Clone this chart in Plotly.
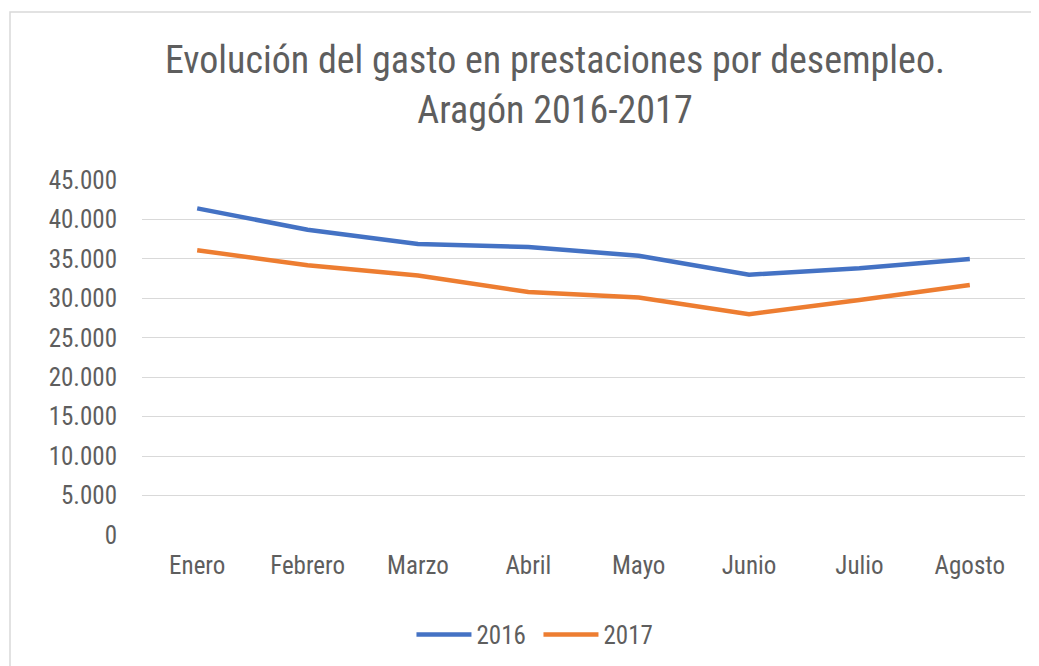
import plotly.graph_objects as go

meses = ["Enero", "Febrero", "Marzo", "Abril", "Mayo", "Junio", "Julio", "Agosto"]
gasto_2016 = [41400, 38700, 36900, 36500, 35400, 33000, 33800, 35000]
gasto_2017 = [36100, 34200, 32900, 30800, 30100, 28000, 29800, 31700]
y_ticks = [0, 5000, 10000, 15000, 20000, 25000, 30000, 35000, 40000, 45000]
y_tick_labels = ["0", "5.000", "10.000", "15.000", "20.000", "25.000", "30.000", "35.000", "40.000", "45.000"]

FONT = "Liberation Sans Narrow, Arial Narrow, Roboto Condensed, Roboto, sans-serif"
GRAY = "#5E5E5E"

W, H = 1031, 658
L, R, T, B = 134, 14, 172, 131
PW, PH = W - L - R, H - T - B

fig = go.Figure()
fig.add_trace(go.Scatter(x=meses, y=gasto_2016, name="2016", mode="lines",
                         line=dict(color="#4472C4", width=4.5)))
fig.add_trace(go.Scatter(x=meses, y=gasto_2017, name="2017", mode="lines",
                         line=dict(color="#ED7D31", width=4.5)))

fig.update_layout(
    width=W, height=H,
    margin=dict(l=L, r=R, t=T, b=B, autoexpand=False),
    paper_bgcolor="white", plot_bgcolor="white",
    font=dict(family=FONT, color=GRAY),
    title=dict(text="Evolución del gasto en prestaciones por desempleo.<br>Aragón 2016-2017",
               x=0.5305, xanchor="center", y=0.901, yanchor="middle",
               font=dict(size=38, color=GRAY, family=FONT)),
    xaxis=dict(type="category", showgrid=False, showline=False, ticks="",
               tickfont=dict(size=25, color=GRAY), range=[-0.5, 7.5],
               ticklabelstandoff=13),
    yaxis=dict(range=[0, 45000], tickvals=y_ticks, ticktext=y_tick_labels,
               showgrid=True, gridcolor="#D9D9D9", gridwidth=1.3, zeroline=False,
               tickfont=dict(size=25, color=GRAY), ticks="", ticklabelstandoff=24),
    legend=dict(orientation="h", x=0.449, xanchor="center", y=-0.281, yanchor="middle",
                font=dict(size=25, color=GRAY), itemwidth=55, entrywidth=57,
                tracegroupgap=0),
    showlegend=True,
    shapes=[dict(type="rect", xref="paper", yref="paper",
                 x0=(2 - L) / PW, x1=(1040 - L) / PW,
                 y0=-(680 - T - PH) / PH, y1=(T + PH - 4) / PH,
                 line=dict(color="#D9D9D9", width=1.5), fillcolor="rgba(0,0,0,0)", layer="below")],
)

fig.write_html("out.html")
